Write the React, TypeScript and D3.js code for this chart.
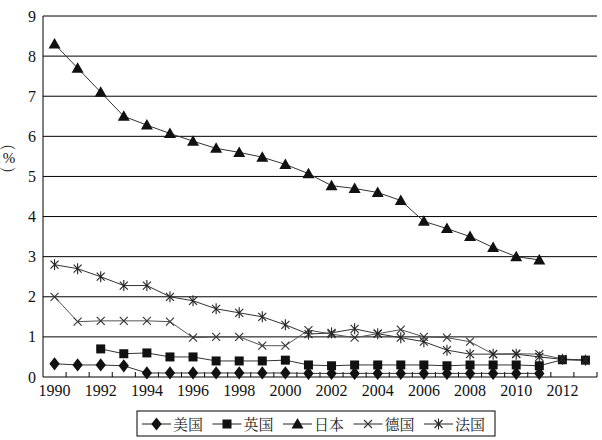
import React from "react";
import * as d3 from "d3";

const years: string[] = d3.range(1990, 2014).map(String);
const yTicks: number[] = [0, 1, 2, 3, 4, 5, 6, 7, 8, 9];
const xLabels: string[] = ["1990","1992","1994","1996","1998","2000","2002","2004","2006","2008","2010","2012"];

const usa: (number | null)[] = [0.33,0.3,0.3,0.28,0.1,0.1,0.1,0.1,0.1,0.1,0.1,0.09,0.09,0.09,0.09,0.09,0.09,0.09,0.09,0.09,0.09,0.09,null,null];
const uk: (number | null)[] = [null,null,0.7,0.58,0.6,0.5,0.5,0.4,0.4,0.4,0.42,0.3,0.28,0.3,0.3,0.3,0.3,0.28,0.3,0.3,0.3,0.28,0.43,0.42];
const japan: (number | null)[] = [8.3,7.7,7.1,6.5,6.28,6.07,5.88,5.7,5.6,5.48,5.3,5.07,4.77,4.7,4.6,4.4,3.88,3.7,3.5,3.23,3.0,2.92,null,null];
const germany: (number | null)[] = [2.0,1.38,1.4,1.4,1.4,1.38,0.98,1.0,1.0,0.78,0.78,1.17,1.07,0.98,1.08,1.18,1.0,0.98,0.88,0.57,0.58,0.57,0.45,0.42];
const france: (number | null)[] = [2.8,2.7,2.5,2.28,2.28,2.0,1.9,1.7,1.6,1.5,1.3,1.07,1.1,1.2,1.08,0.98,0.88,0.67,0.57,0.57,0.57,0.5,0.44,0.42];

const seriesNames = ["美国", "英国", "日本", "德国", "法国"];
const seriesData = [usa, uk, japan, germany, france];
const markers = ["diamond", "square", "triangle", "cross", "star"];

const W = 602, H = 440;
const left = 43, right = 597, top = 16, bottom = 377;

function Marker({ type, x, y }: { type: string; x: number; y: number }) {
  if (type === "diamond") {
    const s = d3.symbol(d3.symbolDiamond, 70)();
    return <path d={s as string} transform={`translate(${x},${y}) scale(1.15,0.85)`} fill="#111" />;
  }
  if (type === "square") {
    return <rect x={x - 4.5} y={y - 4.5} width={9} height={9} fill="#111" />;
  }
  if (type === "triangle") {
    return <path d={`M${x},${y - 6}L${x + 6},${y + 4.5}L${x - 6},${y + 4.5}Z`} fill="#111" />;
  }
  if (type === "cross") {
    return (
      <g stroke="#333" strokeWidth={1.1}>
        <line x1={x - 4} y1={y - 4} x2={x + 4} y2={y + 4} />
        <line x1={x - 4} y1={y + 4} x2={x + 4} y2={y - 4} />
      </g>
    );
  }
  return (
    <g stroke="#222" strokeWidth={1.1}>
      <line x1={x - 4} y1={y - 4} x2={x + 4} y2={y + 4} />
      <line x1={x - 4} y1={y + 4} x2={x + 4} y2={y - 4} />
      <line x1={x} y1={y - 5.5} x2={x} y2={y + 5.5} />
    </g>
  );
}

const css = `
svg text.num { font-family: "Liberation Serif", "Times New Roman", serif; font-size: 16px; }
svg text.cjk { font-family: "Noto Serif CJK SC", "Noto Sans CJK SC", serif; font-size: 15px; }
`;

export default function App() {
  const x = d3.scaleBand<string>().domain(years).range([left, right]).padding(0);
  const y = d3.scaleLinear().domain([0, 9]).range([bottom, top]);
  const cx = (yr: string) => (x(yr) as number) + x.bandwidth() / 2;

  const lineGen = d3
    .line<[string, number | null]>()
    .defined((d) => d[1] !== null)
    .x((d) => cx(d[0]))
    .y((d) => y(d[1] as number));

  const legendX0 = 142, legendStep = 70.5, legendY = 424;

  return (
    <svg width={W} height={H} style={{ position: "absolute", left: 0, top: 0, background: "#fff" }}>
      <style>{css}</style>
      {yTicks.filter((t) => t > 0).map((t) => (
        <line key={t} x1={left} x2={right} y1={y(t)} y2={y(t)} stroke="#000" strokeWidth={1} />
      ))}
      <line x1={left} x2={left} y1={top} y2={bottom} stroke="#000" strokeWidth={1} />
      <line x1={left} x2={right} y1={bottom} y2={bottom} stroke="#000" strokeWidth={1} />
      {years.map((yr) => (
        <line key={yr} x1={(x(yr) as number) + x.bandwidth()} x2={(x(yr) as number) + x.bandwidth()} y1={bottom} y2={bottom - 5} stroke="#000" strokeWidth={1} />
      ))}
      {yTicks.map((t) => (
        <text key={t} className="num" x={36} y={y(t) + 5.5} textAnchor="end" fill="#111">{t}</text>
      ))}
      {xLabels.map((l) => (
        <text key={l} className="num" x={cx(l)} y={396} textAnchor="middle" fill="#111">{l}</text>
      ))}
      <text className="cjk" transform={`translate(9,147) rotate(90)`} textAnchor="middle" dominantBaseline="central" fill="#111">(</text>
      <text className="num" x={9} y={163} textAnchor="middle" fill="#111" style={{ fontSize: 15 }}>%</text>
      <text className="cjk" transform={`translate(9,170) rotate(90)`} textAnchor="middle" dominantBaseline="central" fill="#111">)</text>
      {seriesData.map((s, si) => (
        <path key={si} d={lineGen(years.map((yr, i) => [yr, s[i]] as [string, number | null])) as string} fill="none" stroke={si === 3 ? "#555" : "#333"} strokeWidth={1} />
      ))}
      {seriesData.map((s, si) =>
        years.map((yr, i) =>
          s[i] === null ? null : <Marker key={`${si}-${i}`} type={markers[si]} x={cx(yr)} y={y(s[i] as number)} />
        )
      )}
      <rect x={137} y={411} width={358} height={25} fill="none" stroke="#000" strokeWidth={1} />
      {seriesNames.map((n, i) => {
        const lx = legendX0 + i * legendStep;
        return (
          <g key={n}>
            <line x1={lx} x2={lx + 29} y1={legendY} y2={legendY} stroke="#222" strokeWidth={1} />
            <Marker type={markers[i]} x={lx + 14.5} y={legendY} />
            <text className="cjk" x={lx + 31} y={legendY + 5.5} fill="#222">{n}</text>
          </g>
        );
      })}
    </svg>
  );
}
